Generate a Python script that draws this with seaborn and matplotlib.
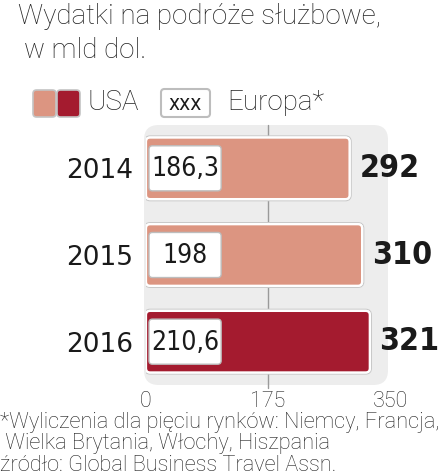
import matplotlib
matplotlib.use("Agg")
import matplotlib.pyplot as plt
import matplotlib.patheffects as pe
from matplotlib.patches import FancyBboxPatch
import seaborn as sns
import pandas as pd

years = ["2014", "2015", "2016"]
usa = [292, 310, 321]
europa = [186.3, 198, 210.6]
europa_labels = ["186,3", "198", "210,6"]
usa_labels = ["292", "310", "321"]
xticks = [0, 175, 350]

LIGHT = "#DC9581"
DARK = "#A41B2F"
bar_colors = [LIGHT, LIGHT, DARK]

sns.set_theme(style="white")
LIGHTFONT = ["Roboto", "DejaVu Sans"]
NARROW = ["DejaVu Sans"]
plt.rcParams["font.family"] = ["DejaVu Sans"]

W, H = 445, 476
fig = plt.figure(figsize=(W / 100, H / 100), dpi=100)
fig.patch.set_facecolor("white")

ax_l, ax_r, ax_t, ax_b = 146, 390, 125, 385
ax = fig.add_axes([ax_l / W, 1 - ax_b / H, (ax_r - ax_l) / W, (ax_b - ax_t) / H])
ax.set_facecolor("none")

df = pd.DataFrame({"year": years, "usa": usa})
sns.barplot(data=df, y="year", x="usa", hue="year", palette=bar_colors,
            orient="h", width=0.71, ax=ax, legend=False, zorder=3, saturation=1)

ax.set_xlim(0, 350)
ax.set_ylim(2.5, -0.5)

pxx = (ax_r - ax_l) / 350
pxy = (ax_b - ax_t) / 3.0
masp = pxx / pxy

for p in list(ax.patches):
    x0, y0, w, h = p.get_x(), p.get_y(), p.get_width(), p.get_height()
    fc = p.get_facecolor()
    p.remove()
    rp = FancyBboxPatch((x0, y0), w, h, boxstyle="round,pad=0,rounding_size=6",
                        mutation_aspect=masp, facecolor=fc, edgecolor="white",
                        linewidth=1.6, zorder=3)
    rp.set_path_effects([pe.withStroke(linewidth=3.2, foreground="#c9c9c9"), pe.Normal()])
    ax.add_patch(rp)

panel = FancyBboxPatch((-2 / (ax_r - ax_l), 0.0), (244) / (ax_r - ax_l), 1.0,
                       boxstyle="round,pad=0,rounding_size=0.06",
                       mutation_aspect=(ax_r - ax_l) / (ax_b - ax_t),
                       transform=ax.transAxes, facecolor="#EDEDED",
                       edgecolor="none", zorder=0, clip_on=False)
ax.add_patch(panel)
ax.axvline(175, color="#9a9a9a", lw=1.0, zorder=1, ymin=-0.01, ymax=1.0, clip_on=False)

for i, (v, lab) in enumerate(zip(europa, europa_labels)):
    bx = FancyBboxPatch((4.3, i - 0.26), 103.5, 0.52,
                        boxstyle="round,pad=0,rounding_size=5",
                        mutation_aspect=masp, facecolor="white",
                        edgecolor="#bdbdbd", linewidth=1.0, zorder=4)
    ax.add_patch(bx)
    ax.text(56, i + 0.01, lab, ha="center", va="center", fontsize=19,
            family=NARROW, fontstretch="condensed", color="#1a1a1a", zorder=5)

for i, (v, lab) in enumerate(zip(usa, usa_labels)):
    ax.annotate(lab, (v, i), xytext=(7, 0), textcoords="offset points",
                ha="left", va="center", fontsize=23, fontweight="bold",
                family=NARROW, fontstretch="condensed", color="#1a1a1a",
                annotation_clip=False)

for s in ax.spines.values():
    s.set_visible(False)
ax.set_xlabel("")
ax.set_ylabel("")
ax.set_xticks(xticks)
ax.set_xticklabels([str(t) for t in xticks], fontsize=15.5, family=LIGHTFONT,
                   fontweight="light", color="#222222")
ax.tick_params(axis="x", length=0, pad=4)
ax.tick_params(axis="y", length=0, pad=9)
ax.set_yticks(range(len(years)))
ax.set_yticklabels(years, fontsize=19, family=["DejaVu Sans"], color="#1a1a1a")

fig.text(18 / W, 1 - 3 / H, "Wydatki na podróże służbowe,", ha="left", va="top",
         fontsize=20, family=LIGHTFONT, fontweight="light", color="#222222")
fig.text(24 / W, 1 - 37 / H, "w mld dol.", ha="left", va="top",
         fontsize=20, family=LIGHTFONT, fontweight="light", color="#222222")

sw1 = FancyBboxPatch((33 / W, 1 - 117 / H), 23 / W, 27 / H,
                     boxstyle="round,pad=0,rounding_size=0.008", mutation_aspect=W / H,
                     transform=fig.transFigure, facecolor=LIGHT, edgecolor="#c4c4c4", lw=1.2)
sw2 = FancyBboxPatch((57 / W, 1 - 117 / H), 23 / W, 27 / H,
                     boxstyle="round,pad=0,rounding_size=0.008", mutation_aspect=W / H,
                     transform=fig.transFigure, facecolor=DARK, edgecolor="#c4c4c4", lw=1.2)
fig.patches.extend([sw1, sw2])
fig.text(87 / W, 1 - 103 / H, "USA", ha="left", va="center", fontsize=20,
         family=LIGHTFONT, fontweight="light", color="#222222")
xb = FancyBboxPatch((161 / W, 1 - 117 / H), 49 / W, 28 / H,
                    boxstyle="round,pad=0,rounding_size=0.008", mutation_aspect=W / H,
                    transform=fig.transFigure, facecolor="white", edgecolor="#bdbdbd", lw=1.5)
fig.patches.append(xb)
fig.text(185.5 / W, 1 - 104 / H, "xxx", ha="center", va="center", fontsize=15,
         family=NARROW, fontstretch="condensed", color="#1a1a1a")
fig.text(227 / W, 1 - 103 / H, "Europa*", ha="left", va="center", fontsize=20,
         family=LIGHTFONT, fontweight="light", color="#222222")

foot = ["*Wyliczenia dla pięciu rynków: Niemcy, Francja,",
        " Wielka Brytania, Włochy, Hiszpania",
        "źródło: Global Business Travel Assn."]
for k, line in enumerate(foot):
    fig.text(0 / W, 1 - (428 + 21.5 * k) / H, line, ha="left", va="baseline",
             fontsize=15.7, family=LIGHTFONT, fontweight="light", color="#222222")

fig.savefig("out.png", dpi=100, facecolor="white")
